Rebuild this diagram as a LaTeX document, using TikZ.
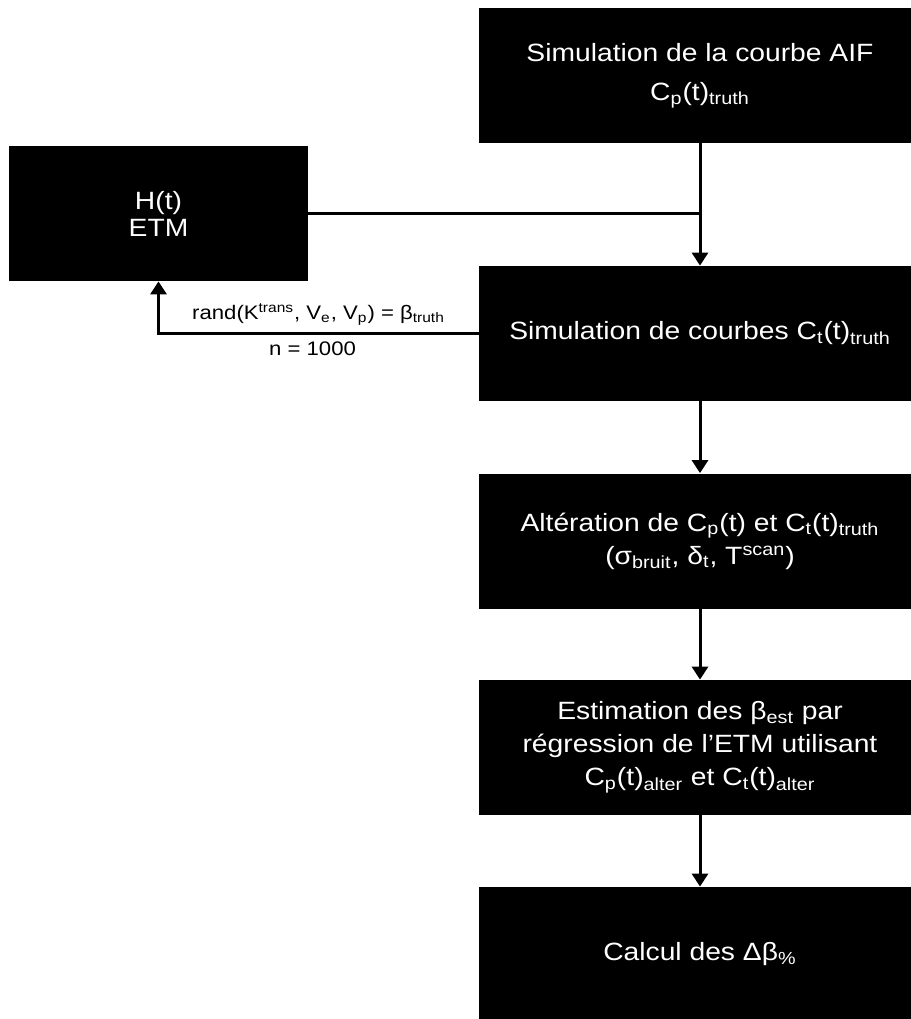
\documentclass[tikz,border=0pt]{standalone}
\usepackage{fontspec}
\setmainfont{Liberation Sans}[FakeStretch=1.13]
\usetikzlibrary{arrows.meta,positioning}

\begin{document}
\begin{tikzpicture}[x=0.5pt, y=-0.5pt, >={Triangle[length=6.5pt,width=8pt]},
  box/.style={fill=black, text=white, align=center, inner sep=0pt, minimum width=221pt, minimum height=67.5pt, font=\fontsize{12.5}{16.5}\selectfont},
  link/.style={line width=1.5pt},
  lab/.style={font=\fontsize{9.8}{12}\selectfont}]
  \useasboundingbox (0,0) rectangle (911,1019);
  \node[box] (aif) at (700,75.5) {Simulation de la courbe AIF\\[3pt] C\textsubscript{p}(t)\textsubscript{truth}};
  \node[box, minimum width=149.5pt, font=\fontsize{12.5}{13.5}\selectfont] (etm) at (158.5,213.5) {H(t)\\ETM};
  \node[box] (sim) at (700,333.5) {Simulation de courbes C\textsubscript{t}(t)\textsubscript{truth}};
  \node[box] (alt) at (700,541) {Alt\'eration de C\textsubscript{p}(t) et C\textsubscript{t}(t)\textsubscript{truth}\\(σ\textsubscript{bruit}, δ\textsubscript{t}, T\textsuperscript{scan})};
  \node[box] (est) at (700,747.5) {Estimation des β\textsubscript{est} par\\r\'egression de l’ETM utilisant\\C\textsubscript{p}(t)\textsubscript{alter} et C\textsubscript{t}(t)\textsubscript{alter}};
  \node[box] (calc) at (700,954.5) {Calcul des Δβ\textsubscript{\%}};
  % main chain
  \coordinate (join) at (aif.south |- etm.east);
  \draw[link] (etm.east) -- (join);
  \draw[link,->] (aif) -- (sim);
  \draw[link,->] (sim) -- (alt);
  \draw[link,->] (alt) -- (est);
  \draw[link,->] (est) -- (calc);
  % loop back to the model
  \draw[link,->] (sim.west) -| node[lab, above, pos=0.25] {rand(K\textsuperscript{trans}, V\textsubscript{e}, V\textsubscript{p}) = β\textsubscript{truth}}
    node[lab, below, pos=0.25, xshift=-3] {n = 1000} (etm.south);
\end{tikzpicture}
\end{document}
